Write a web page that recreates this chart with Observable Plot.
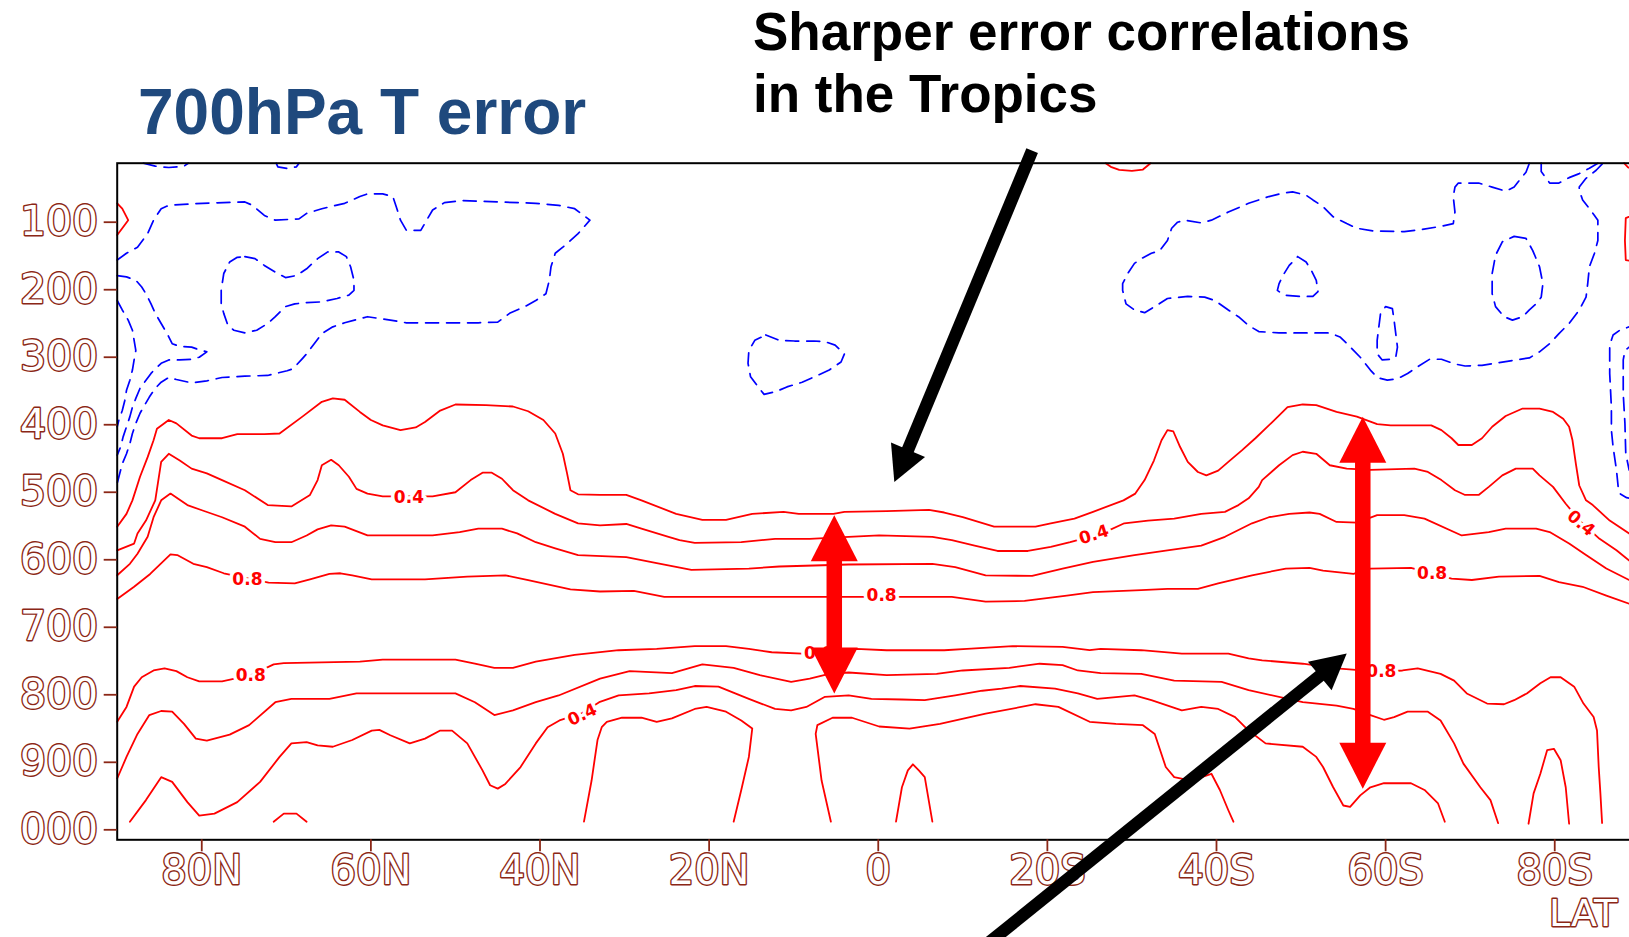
<!DOCTYPE html>
<html>
<head>
<meta charset="utf-8">
<script src="https://cdn.jsdelivr.net/npm/d3@7"></script>
<script src="https://cdn.jsdelivr.net/npm/@observablehq/plot@0.6"></script>
<style>
  html, body { margin: 0; padding: 0; background: #ffffff; overflow: hidden; }
  body { width: 1629px; height: 937px; position: relative; }
  #chart { position: absolute; left: 0; top: 0; width: 1700px; height: 937px; }
  #chart svg { max-width: none !important; width: 1700px; height: 937px; }
  #title { position: absolute; left: 138px; top: 80px; font: bold 64px "Liberation Sans", Arial, sans-serif; line-height: 64px; color: #1F497D; white-space: nowrap; }
  #note { position: absolute; left: 753px; top: 1px; font: bold 53px "Liberation Sans", Arial, sans-serif; line-height: 62px; color: #000000; white-space: nowrap; }
</style>
</head>
<body>
<div id="chart"></div>
<div id="title">700hPa T error</div>
<div id="note">Sharper error correlations<br>in the Tropics</div>
<script>
// ---------- axis ticks ----------
const yTicks = [100, 200, 300, 400, 500, 600, 700, 800, 900, 1000];
const yTickLabels = ["100", "200", "300", "400", "500", "600", "700", "800", "900", "000"];
const xTicks = [80, 60, 40, 20, 0, -20, -40, -60, -80];
const xTickLabels = ["80N", "60N", "40N", "20N", "0", "20S", "40S", "60S", "80S"];
const xAxisTitle = "LAT";

// ---------- red (positive) contours: [latitude (N>0), pressure hPa] ----------
const red02Upper = [[90,551],[88.9,532],[88.2,512],[87.3,477],[86.4,448],[85.7,423],[85.3,406],[83.9,393],[83.0,398],[81.2,416],[80.3,420],[77.6,420],[75.8,414],[72.6,414],[70.8,413],[68.1,388],[65.8,366],[64.5,361],[63.1,363],[61.3,381],[60.0,393],[58.6,401],[56.5,408],[54.7,404],[53.6,396],[51.8,379],[50.0,370],[46.4,371],[43.2,373],[41.4,380],[39.6,393],[38.2,413],[37.3,443],[36.8,472],[36.4,497],[35.5,503],[32.9,504],[29.8,504],[28.0,512],[23.9,532],[20.8,541],[18.0,541],[14.9,532],[11.2,529],[9.4,532],[5.3,532],[4.0,529],[-1.0,528],[-6.0,526],[-7.8,530],[-10.0,537],[-13.7,551],[-18.6,551],[-20.4,546],[-23.2,539],[-25.4,529],[-29.0,512],[-30.4,502],[-31.5,482],[-32.6,453],[-33.5,423],[-34.2,408],[-34.9,410],[-35.7,433],[-36.6,455],[-37.8,470],[-38.8,475],[-40.2,468],[-41.4,455],[-43.0,438],[-44.6,420],[-46.6,396],[-48.4,374],[-50.2,370],[-51.8,371],[-54.2,381],[-56.6,388],[-59.0,399],[-60.6,401],[-65.4,401],[-66.6,408],[-67.8,420],[-68.6,430],[-70.2,430],[-71.4,420],[-72.6,403],[-74.2,387],[-76.2,376],[-78.2,376],[-79.8,381],[-81.0,391],[-81.7,403],[-82.1,423],[-82.5,458],[-82.9,490],[-83.7,512],[-84.5,519],[-86.5,542],[-88.8,561],[-90,570]];
const red04Upper = [[90,586],[88.0,576],[87.6,561],[86.6,542],[85.5,512],[84.8,455],[83.9,443],[82.6,453],[81.2,465],[79.4,472],[77.6,482],[74.9,497],[72.2,519],[69.4,521],[67.2,504],[66.3,482],[65.8,460],[64.7,452],[63.8,460],[62.6,477],[61.7,495],[60.4,502],[58.6,506],[52.7,506],[50.0,500],[48.2,482],[46.8,471],[45.7,471],[44.5,480],[43.2,497],[41.4,512],[38.2,532],[35.5,546],[32.9,549],[29.8,547],[28.0,554],[24.8,566],[23.5,571],[21.7,575],[16.2,574],[12.2,569],[8.1,569],[3.5,566],[-0.1,564],[-6.4,566],[-8.7,571],[-11.4,579],[-14.1,587],[-17.7,587],[-20.4,581],[-22.7,574],[-26.5,561],[-29.1,546],[-31.9,542],[-35.0,539],[-38.2,532],[-41.0,529],[-42.6,519],[-43.8,509],[-45.0,492],[-45.4,482],[-47.4,460],[-49.0,445],[-50.2,440],[-51.8,443],[-53.4,460],[-55.4,465],[-58.2,467],[-63.4,465],[-65.0,470],[-66.6,482],[-68.2,497],[-69.4,504],[-71.0,504],[-72.2,492],[-73.8,475],[-75.4,465],[-77.4,465],[-78.2,475],[-79.8,492],[-81.3,517],[-83.1,544],[-85.3,569],[-87.3,586],[-88.8,601],[-90,610]];
const red06Upper = [[90,623],[88.5,606],[87.6,591],[86.4,566],[85.7,537],[84.8,512],[83.7,502],[81.7,519],[79.9,527],[77.6,537],[74.9,551],[73.1,569],[71.3,574],[69.4,574],[67.6,564],[66.3,555],[64.7,549],[63.1,551],[60.4,564],[52.7,564],[49.5,559],[47.3,554],[44.5,554],[42.7,561],[40.5,574],[38.2,583],[35.5,593],[29.8,596],[26.2,605],[22.1,615],[15.3,613],[11.7,610],[3.5,607],[-6.4,606],[-9.1,611],[-12.7,623],[-18.2,624],[-21.8,613],[-25.4,603],[-30.3,593],[-34.2,586],[-38.2,579],[-41.0,566],[-44.2,546],[-46.2,537],[-48.6,532],[-51.0,530],[-52.2,532],[-54.2,544],[-56.6,545],[-59.0,534],[-62.2,534],[-64.6,539],[-69.0,564],[-72.2,559],[-74.2,554],[-77.8,554],[-79.4,559],[-81.7,576],[-83.7,593],[-86.1,613],[-88.8,630],[-90,637]];
const red08Upper = [[90,658],[88.0,640],[86.1,621],[83.7,592],[82.9,593],[81.0,606],[79.4,611],[77.4,620],[72.1,634],[69.0,635],[67.2,629],[64.9,621],[63.6,620],[62.2,623],[59.9,629],[53.6,629],[48.6,625],[44.1,623],[41.4,630],[36.4,644],[32.9,647],[28.9,646],[25.3,655],[21.7,655],[6.3,655],[-8.7,655],[-12.7,662],[-17.3,661],[-22.3,653],[-25.4,648],[-31.1,645],[-34.2,643],[-37.8,643],[-40.2,635],[-44.2,623],[-48.2,613],[-51.0,612],[-52.6,616],[-56.2,621],[-58.2,613],[-63.0,612],[-67.8,628],[-70.2,630],[-73.4,625],[-78.2,624],[-80.5,633],[-83.3,640],[-86.1,653],[-88.8,665],[-90,670]];
const red08Lower = [[90,840],[88.9,818],[88.0,788],[87.1,774],[85.7,764],[84.4,761],[83.0,765],[81.7,774],[80.3,780],[77.6,780],[74.2,771],[71.5,755],[70.3,753],[61.3,751],[58.6,748],[50.0,748],[47.7,754],[45.4,760],[43.2,760],[40.5,751],[35.9,741],[30.7,734],[26.2,732],[21.7,728],[18.0,728],[15.3,732],[12.6,737],[9.0,739],[7.0,739],[2.6,732],[-1.0,734],[-7.8,734],[-10.5,732],[-15.9,728],[-21.8,729],[-25.0,734],[-26.3,732],[-31.1,734],[-35.9,739],[-41.4,739],[-43.8,746],[-45.4,749],[-50.2,754],[-54.2,761],[-59.5,766],[-62.0,764],[-63.8,761],[-66.5,769],[-68.1,779],[-69.6,798],[-72.0,813],[-74.0,814],[-75.2,808],[-76.7,798],[-78.3,783],[-79.5,774],[-80.7,774],[-82.3,788],[-83.4,813],[-84.6,833],[-85.0,853],[-85.2,907],[-85.4,946],[-85.6,990]];
const red06Lower = [[90,924],[88.9,892],[87.6,858],[86.2,830],[84.8,824],[83.5,825],[82.1,843],[80.7,865],[79.4,868],[76.7,859],[74.4,845],[71.3,811],[69.4,806],[64.9,806],[61.7,798],[50.0,798],[47.7,811],[45.4,830],[43.2,823],[40.5,811],[37.8,801],[32.9,776],[29.4,765],[24.4,768],[20.8,755],[17.1,760],[14.0,771],[10.3,781],[8.1,776],[5.8,769],[3.5,767],[-1.0,771],[-6.9,769],[-10.0,764],[-15.5,760],[-19.1,754],[-21.8,756],[-23.6,764],[-26.3,768],[-31.1,769],[-35.0,779],[-40.6,781],[-43.8,793],[-50.2,811],[-54.2,816],[-56.2,821],[-58.2,830],[-59.8,837],[-61.0,833],[-62.6,825],[-65.0,825],[-66.5,838],[-68.1,872],[-69.2,902],[-71.2,937],[-72.4,956],[-73.3,990]];
const red04Lower = [[88.5,988],[86.6,956],[84.8,922],[83.5,929],[81.7,959],[80.3,979],[78.5,976],[75.8,959],[73.1,929],[70.8,892],[69.4,872],[67.6,870],[66.3,875],[64.5,877],[62.2,867],[59.9,853],[59.0,852],[57.7,860],[55.4,872],[53.6,865],[51.8,853],[50.4,853],[48.6,872],[46.8,912],[45.9,934],[45.0,939],[44.1,932],[42.3,907],[40.5,872],[39.1,848],[37.7,838],[35.0,827],[33.0,811],[30.7,801],[27.1,798],[23.9,793],[21.7,787],[18.9,788],[15.3,806],[12.2,821],[10.3,823],[8.5,818],[6.3,803],[3.5,801],[0.8,806],[-2.8,807],[-5.5,808],[-9.1,801],[-12.3,794],[-14.6,791],[-16.8,787],[-20.9,791],[-23.6,798],[-25.9,806],[-30.3,801],[-32.3,808],[-35.9,823],[-38.2,818],[-40.2,821],[-42.2,833],[-43.8,853],[-45.8,872],[-50.2,877],[-51.8,892],[-52.6,907],[-53.8,937],[-55.0,964],[-55.8,966],[-57.0,949],[-58.2,937],[-59.8,931],[-63.0,931],[-64.6,941],[-66.2,961],[-67.0,988]];
const red02DomeA = [[71.5,988],[70.3,976],[68.8,976],[67.6,988]];
const red02DomeB = [[34.8,988],[33.9,927],[33.2,867],[32.7,848],[32.1,840],[30.3,834],[28.0,834],[26.2,840],[24.4,835],[21.7,821],[20.3,818],[18.0,825],[16.2,838],[14.9,850],[15.3,892],[16.2,941],[17.1,988]];
const red02DomeC = [[5.6,988],[6.7,927],[7.4,858],[7.2,845],[5.4,834],[3.1,834],[-0.1,847],[-3.7,850],[-7.3,843],[-12.7,828],[-18.6,814],[-21.3,818],[-25.0,840],[-28.1,843],[-31.3,845],[-32.7,858],[-34.0,907],[-35.0,922],[-37.0,927],[-39.4,917],[-40.4,941],[-41.4,971],[-42.0,988]];
const red02DomeD = [[-2.1,988],[-2.8,937],[-3.5,912],[-4.1,903],[-4.8,912],[-5.5,922],[-6.4,988]];
const red02DomeE = [[-76.9,991],[-77.5,946],[-78.3,917],[-79.1,882],[-79.9,880],[-80.7,897],[-81.3,937],[-81.7,991]];
const redTopLeft = [[90,72],[89.4,80],[88.7,97],[89.4,109],[90,119]];
const redTopMid = [[-26.9,12.6],[-27.5,18],[-28.5,22.5],[-30,24],[-31.3,22],[-32.2,12.6]];
const redTopRight = [[-88.2,12.6],[-88.7,19],[-89.4,22],[-90,23]];
const redRightEdge = [[-90,85],[-88.4,94],[-88.3,127],[-88.4,156],[-90,160]];

// ---------- blue (negative, dashed) contours ----------
const blueNHOuter = [[90,156],[88.9,146],[87.6,137],[86.4,117],[85.7,97],[84.8,80],[83.9,75],[79.9,72],[74.9,70],[74.0,75],[72.6,90],[71.3,97],[68.5,95],[67.6,87],[65.8,80],[63.1,72],[61.3,62],[60.4,58],[58.6,58],[57.4,62],[57.0,77],[56.5,97],[55.8,112],[54.1,112],[53.4,97],[52.7,82],[51.3,71],[49.1,68],[45.0,70],[40.5,72],[37.8,75],[35.9,80],[34.1,97],[35.5,117],[37.3,137],[38.2,146],[38.7,166],[38.9,186],[39.3,206],[40.5,216],[41.8,225],[43.6,235],[45.0,248],[47.3,249],[55.8,249],[57.7,245],[60.4,240],[61.3,243],[63.1,249],[64.5,255],[65.8,265],[66.7,280],[67.6,295],[68.1,302],[69.2,317],[69.9,320],[72.2,327],[74.9,328],[77.6,330],[79.4,335],[81.2,338],[83.0,333],[83.9,330],[84.8,337],[85.5,346],[86.2,359],[86.9,374],[87.3,383],[87.8,398],[88.2,413],[88.5,428],[88.9,443],[89.4,458],[89.8,477],[90,487]];
const blueNHTongue = [[90,179],[88.9,181],[87.8,186],[87.1,196],[86.6,206],[86.0,221],[85.5,235],[84.8,250],[84.1,265],[83.5,280],[82.6,284],[81.2,285],[80.3,289],[79.4,292],[80.3,300],[81.2,303],[82.6,304],[83.9,304],[84.8,309],[85.5,317],[86.0,324],[86.6,334],[87.3,346],[87.8,361],[88.2,374],[88.5,388],[88.9,403],[89.3,418],[89.6,433],[90,445]];
const blueNHInner = [[90,216],[89.4,230],[88.7,245],[88.2,260],[88.0,275],[87.8,290],[88.0,304],[88.2,319],[88.5,334],[88.9,349],[89.1,364],[89.4,379],[89.8,393],[90,403]];
const blueNHLoop = [[74.9,151],[73.7,154],[72.6,164],[71.3,174],[70.1,182],[68.8,179],[67.6,169],[66.3,154],[65.1,144],[63.8,144],[62.9,151],[62.4,166],[62.0,186],[62.0,201],[62.6,208],[64.0,213],[65.8,218],[67.6,219],[69.0,221],[70.1,225],[71.3,240],[72.2,250],[73.5,260],[74.9,264],[76.2,260],[76.9,253],[77.4,235],[77.7,221],[77.7,201],[77.4,176],[76.7,159],[75.8,152],[74.9,151]];
const blueTopA = [[86.9,12.6],[85.5,17],[83.9,19],[82.1,17],[81.6,12.6]];
const blueTopB = [[71.2,12.6],[71.0,18],[69.9,20.5],[68.8,18],[68.5,12.6]];
const blueTropicLoop = [[13.3,267],[11.7,275],[9.9,276],[7.6,276],[6.3,277],[5.1,282],[4.0,295],[4.4,307],[5.8,319],[7.2,327],[9.0,337],[10.8,344],[12.1,351],[13.5,355],[14.2,344],[15.1,329],[15.4,309],[15.3,290],[14.6,275],[13.3,267]];
const blueSHOuter = [[-77.0,12.6],[-76.6,26],[-76.0,35],[-75.2,48],[-74.2,54],[-72.6,48],[-71.0,42],[-68.6,42],[-68.2,48],[-68.0,62],[-68.2,85],[-68.0,102],[-66.6,106],[-64.2,111],[-62.2,114],[-58.6,113],[-56.6,109],[-55.4,102],[-53.8,92],[-52.6,77],[-51.4,67],[-50.6,60],[-49.0,55],[-47.8,57],[-46.2,62],[-43.8,72],[-41.4,85],[-39.4,97],[-38.2,101],[-36.2,97],[-35.4,100],[-34.7,109],[-34.2,127],[-33.3,142],[-32.3,146],[-31.1,154],[-30.3,161],[-29.5,176],[-28.9,191],[-28.9,201],[-29.3,221],[-30.3,230],[-31.5,234],[-32.7,225],[-34.2,213],[-36.6,210],[-38.6,211],[-39.8,216],[-41.4,230],[-42.6,240],[-43.8,253],[-45.0,262],[-47.4,264],[-53.4,264],[-54.6,270],[-55.6,282],[-57.0,300],[-58.2,319],[-59.0,330],[-60.2,334],[-61.4,332],[-62.6,324],[-63.8,314],[-65.2,303],[-66.6,303],[-68.2,310],[-69.4,313],[-71.4,312],[-73.4,308],[-75.4,304],[-77.0,301],[-78.2,292],[-79.4,280],[-80.5,265],[-81.7,250],[-82.9,230],[-83.7,211],[-83.9,191],[-84.1,166],[-84.7,146],[-85.1,127],[-85.1,97],[-84.7,90],[-84.1,80],[-83.3,67],[-82.9,53],[-82.9,48],[-83.7,35],[-84.9,23],[-85.7,12.6]];
const blueSHTop = [[-78.4,12.6],[-78.4,25],[-79.4,42],[-80.5,42],[-81.7,34],[-82.9,28],[-84.1,20],[-85.1,12.6]];
const blueSHTriangle = [[-49.6,151],[-50.6,159],[-51.2,171],[-51.8,186],[-52.0,203],[-51.4,210],[-49.8,210],[-48.0,208],[-47.2,201],[-47.4,191],[-48.0,176],[-48.6,164],[-49.6,151]];
const blueSHNarrow = [[-60.0,225],[-60.8,228],[-61.0,245],[-61.2,265],[-61.4,285],[-61.2,300],[-60.6,303],[-59.6,304],[-59.0,295],[-59.0,275],[-59.2,255],[-59.4,235],[-60.0,225]];
const blueSHOval = [[-75.2,121],[-76.6,124],[-77.4,142],[-78.2,166],[-78.6,191],[-78.4,211],[-77.8,221],[-77.0,230],[-76.2,240],[-75.0,245],[-74.0,240],[-73.0,225],[-72.6,206],[-72.6,176],[-73.0,149],[-73.8,129],[-75.2,121]];
const blueEdgeA = [[-90,252],[-88.8,255],[-87.7,260],[-86.9,267],[-86.5,282],[-86.5,324],[-86.7,374],[-86.7,408],[-86.9,433],[-87.3,467],[-87.5,492],[-87.7,502],[-88.5,508],[-90,512]];
const blueEdgeB = [[-90,283],[-88.8,285],[-88.3,290],[-88.1,304],[-88.1,354],[-88.3,398],[-88.4,443],[-88.8,467],[-90,472]];

// ---------- contour labels ----------
const labelLat  = [55.5, 74.6, -0.4, -25.5, -65.5, -83.1, 74.2, 7.0, -59.5, 35.0];
const labelP    = [508, 629, 653, 563, 620, 546, 771, 739, 766, 830];
const labelText = ["0.4", "0.8", "0.8", "0.4", "0.8", "0.4", "0.8", "0.8", "0.8", "0.4"];
const labelTilt = [0, 0, 0, -18, 0, 40, 0, 0, 0, -25];

// ---------- annotation arrows (lat / hPa) ----------
const redArrowLat = [5.2, -57.3];
const redArrowTop = [534, 388];
const redArrowTopBase = [602, 456];
const redArrowBottomBase = [729, 871];
const redArrowBottom = [798, 939];

const blackArrowTail = [[-18.2, -6], [-12.7, 1171]];
const blackArrowBase = [[-3.5, 437.6], [-52.2, 772.3]];
const blackArrowTip  = [[-1.9, 484.7], [-55.4, 739]];

// ---------- layout ----------
const W = 1700, H = 937;
const mL = 116.7, mR = 61.2, mT = 162.7, mB = 97.7;
const yDomain = [12.6, 1014.8];
const tickColor = "#8b2716";

const toRows = (list, prefix) => list.flatMap((c, k) => c.map(([lat, p]) => ({lat, p, id: prefix + k})));
const redRows = toRows([red02Upper, red04Upper, red06Upper, red08Upper, red08Lower, red06Lower, red04Lower,
  red02DomeA, red02DomeB, red02DomeC, red02DomeD, red02DomeE, redTopLeft, redTopMid, redTopRight, redRightEdge], "r");
const blueRows = toRows([blueNHOuter, blueNHTongue, blueNHInner, blueNHLoop, blueTopA, blueTopB, blueTropicLoop,
  blueSHOuter, blueSHTop, blueSHTriangle, blueSHNarrow, blueSHOval, blueEdgeA, blueEdgeB], "b");

const labels = labelText.map((t, i) => ({lat: labelLat[i], p: labelP[i], text: t, tilt: labelTilt[i]}));

// pixel factors (for arrow head orientation)
const kx = (W - mL - mR) / 180;
const ky = (H - mT - mB) / (yDomain[1] - yDomain[0]);
const angleOf = (base, tip) => {
  const dx = -(tip[0] - base[0]) * kx;
  const dy = (tip[1] - base[1]) * ky;
  return Math.atan2(dx, -dy) * 180 / Math.PI;
};

const redShafts = redArrowLat.map((lat, i) => ({lat, y1: redArrowTopBase[i] - 6, y2: redArrowBottomBase[i] + 6}));
const redHeads = redArrowLat.flatMap((lat, i) => [
  {lat, p: redArrowTop[i], rot: 0},
  {lat, p: redArrowBottom[i], rot: 180}
]);
const blackShafts = blackArrowTail.map((t, i) => {
  const b = blackArrowBase[i], tp = blackArrowTip[i];
  return {x1: t[0], y1: t[1], x2: b[0] + 0.2 * (tp[0] - b[0]), y2: b[1] + 0.2 * (tp[1] - b[1])};
});
const blackHeads = blackArrowTip.map((tp, i) => ({lat: tp[0], p: tp[1], rot: angleOf(blackArrowBase[i], tp)}));

const headSymbol = (len, half) => ({
  draw(ctx) { ctx.moveTo(0, 0); ctx.lineTo(half, len); ctx.lineTo(-half, len); ctx.closePath(); }
});

const axisText = {fontFamily: "DejaVu Sans", fill: "white", textStroke: tickColor, textStrokeWidth: 2.8};

const plot = Plot.plot({
  width: W, height: H,
  marginLeft: mL, marginRight: mR, marginTop: mT, marginBottom: mB,
  style: {background: "transparent", overflow: "visible", maxWidth: "none"},
  x: {domain: [90, -90]},
  y: {domain: yDomain, reverse: true},
  marks: [
    Plot.line(blueRows, {x: "lat", y: "p", z: "id", stroke: "#0000ff", strokeWidth: 1.7, strokeDasharray: "13,8", curve: "linear"}),
    Plot.line(redRows, {x: "lat", y: "p", z: "id", stroke: "#ff0000", strokeWidth: 1.8, curve: "linear"}),
    Plot.text(labels, {x: "lat", y: "p", text: "text", rotate: "tilt", fill: "#ff0000", stroke: "white", strokeWidth: 7,
      fontSize: 17, fontWeight: "bold", fontFamily: "DejaVu Sans"}),
    Plot.frame({stroke: "black", strokeWidth: 2}),
    Plot.axisY({ticks: yTicks, tickFormat: d => yTickLabels[yTicks.indexOf(d)], anchor: "left", tickSize: 13, tickPadding: 6,
      fontSize: 41, stroke: tickColor, strokeWidth: 1.8, label: null, ...axisText}),
    Plot.axisX({ticks: xTicks, tickFormat: d => xTickLabels[xTicks.indexOf(d)], anchor: "bottom", tickSize: 12, tickPadding: 4,
      fontSize: 40, stroke: tickColor, strokeWidth: 1.8, label: null, ...axisText}),
    // axis title, pulled in so that it stays inside the visible window
    Plot.text([xAxisTitle], {frameAnchor: "bottom-right", textAnchor: "end", lineAnchor: "bottom", dx: -22, dy: 86,
      fontSize: 38, fontFamily: "DejaVu Sans", fill: "white", stroke: tickColor, strokeWidth: 2.8}),
    // red double-headed arrows
    Plot.link(redShafts, {x1: "lat", x2: "lat", y1: "y1", y2: "y2", stroke: "#ff0000", strokeWidth: 15.5, strokeLinecap: "butt"}),
    Plot.dot(redHeads, {x: "lat", y: "p", rotate: "rot", r: 10, symbol: headSymbol(46, 23.5), fill: "#ff0000", stroke: "none"}),
    // black arrows
    Plot.link(blackShafts, {x1: "x1", y1: "y1", x2: "x2", y2: "y2", stroke: "#000000", strokeWidth: 12.5, strokeLinecap: "butt"}),
    Plot.dot(blackHeads, {x: "lat", y: "p", rotate: "rot", r: 10, symbol: headSymbol(35, 18.5), fill: "#000000", stroke: "none"})
  ]
});
document.getElementById("chart").appendChild(plot);
</script>
</body>
</html>
